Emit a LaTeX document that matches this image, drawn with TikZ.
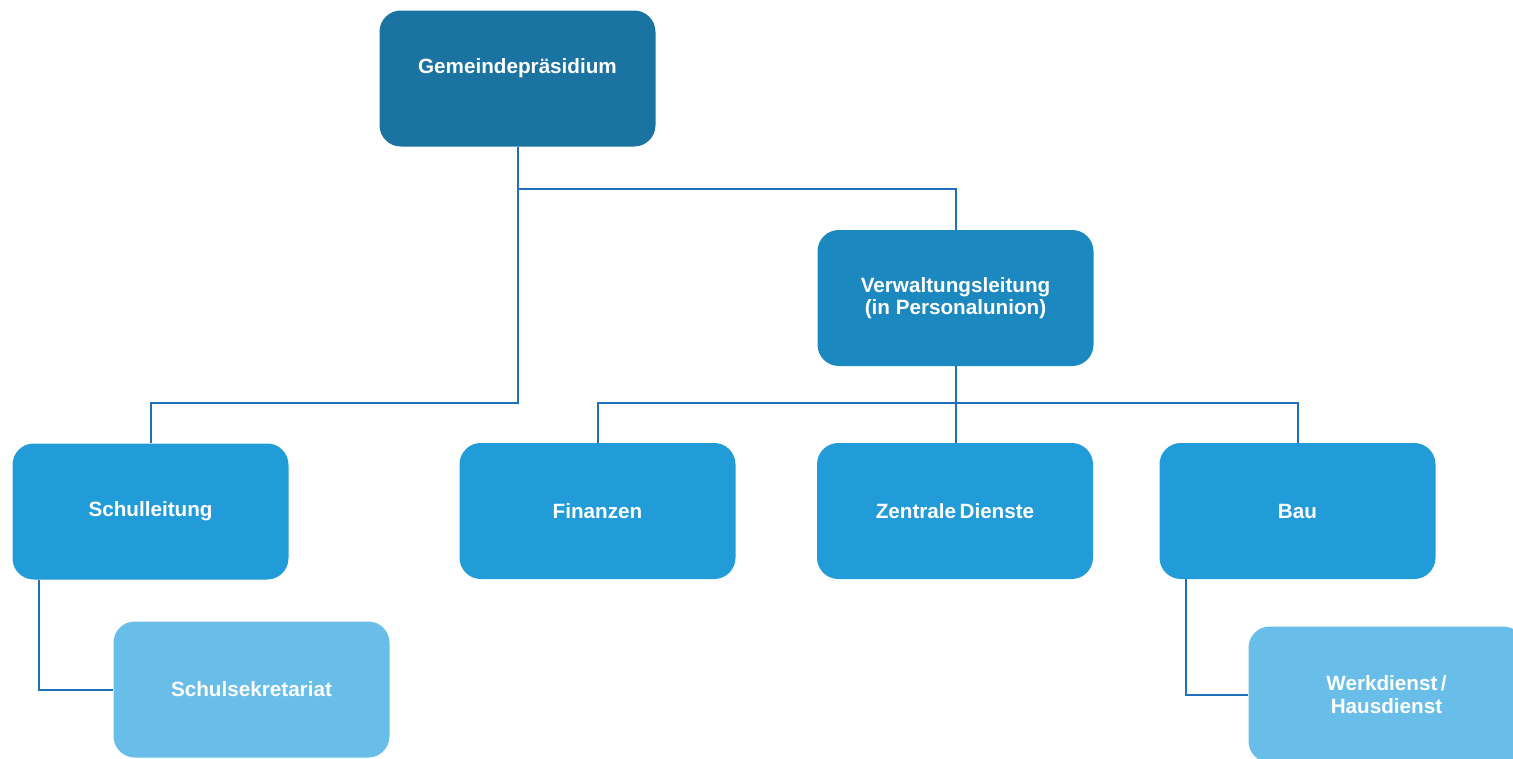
\documentclass[tikz,border=0pt]{standalone}
\usepackage{fontspec}
\setmainfont{Liberation Sans}
\definecolor{topblue}{HTML}{1B73A1}
\definecolor{leadblue}{HTML}{1C88C0}
\definecolor{unitblue}{HTML}{219CD8}
\definecolor{subblue}{HTML}{69BEE9}
\definecolor{lineblue}{HTML}{1F70BA}
\tikzset{
  box/.style={rounded corners=16pt, minimum width=207pt, minimum height=102pt,
    text=white, align=center, font=\fontsize{15.5}{17}\selectfont\bfseries, inner sep=0pt},
  conn/.style={draw=lineblue, line width=1.5pt}
}
\begin{document}
\begin{tikzpicture}[x=0.75pt, y=-0.75pt]
  \useasboundingbox (0,0) rectangle (1513,758);
  \clip (0,0) rectangle (1513,758);
  % boxes
  \node[box, fill=topblue] (gp) at (517.5,78.5) {Gemeindepräsidium\\[2pt]\mbox{}};
  \node[box, fill=leadblue] (vl) at (955.5,298) {Verwaltungsleitung\\(in Personalunion)};
  \node[box, fill=unitblue] (sl) at (150.5,511.5) {Schulleitung};
  \node[box, fill=unitblue] (fi) at (597.5,511) {Finanzen};
  \node[box, fill=unitblue] (zd) at (955,511) {Zentrale\,Dienste};
  \node[box, fill=unitblue] (bau) at (1297.5,511) {Bau};
  \node[box, fill=subblue] (ss) at (251.5,689.5) {Schulsekretariat};
  \node[box, fill=subblue] (wd) at (1386.5,694.5) {Werkdienst\,/\\Hausdienst};
  % lines
  \draw[conn] (gp.south) -- ++(0,42) -| (vl.north);
  \draw[conn] (gp.south) -- ++(0,256) -| (sl.north);
  \draw[conn] (vl.south) -- (vl.south |- zd.north);
  \draw[conn] (vl.south) -- ++(0,37) -| (fi.north);
  \draw[conn] (vl.south) -- ++(0,37) -| (bau.north);
  \draw[conn] (sl.south west) ++(27,0) |- (ss.west);
  \draw[conn] (bau.south west) ++(27,0) |- (wd.west);
\end{tikzpicture}
\end{document}
